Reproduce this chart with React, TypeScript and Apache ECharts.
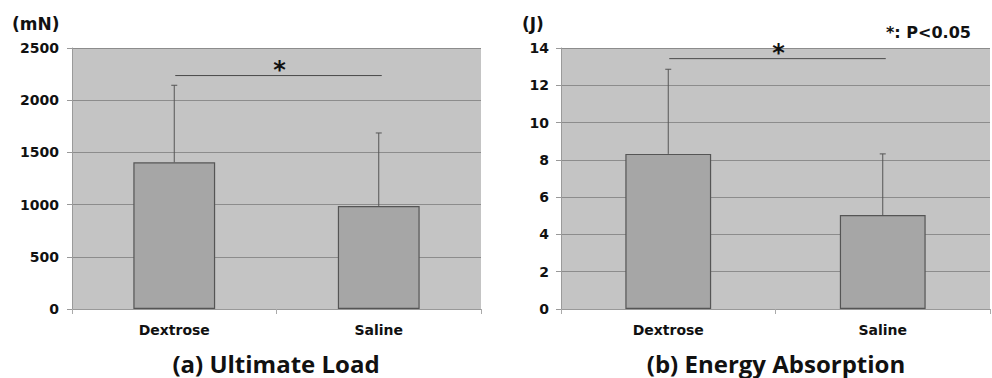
import React, { useEffect, useRef } from "react";
import * as echarts from "echarts";

const categories = ["Dextrose", "Saline"];
const loadMean = [1405, 987];
const loadSD = [738, 699];
const energyMean = [8.32, 5.04];
const energySD = [4.54, 3.28];
const loadTicks = { min: 0, max: 2500, interval: 500 };
const energyTicks = { min: 0, max: 14, interval: 2 };
const loadSigLevel = 2236;
const energySigLevel = 13.43;
const loadTitle = "(a) Ultimate Load";
const energyTitle = "(b) Energy Absorption";
const loadUnit = "(mN)";
const energyUnit = "(J)";
const sigNote = "*: P<0.05";

const FONT = "DejaVu Sans";
const TITLE_FONT = "Open Sans";

export default function App() {
  const ref = useRef<HTMLDivElement>(null);
  useEffect(() => {
    if (!ref.current) return;
    const chart = echarts.init(ref.current, null, { renderer: "svg" });

    const grids = [
      { left: 72, top: 48, width: 409, height: 261 },
      { left: 561, top: 48, width: 429, height: 261 },
    ];

    const xAxisCommon = (gi: number) => ({
      type: "category",
      gridIndex: gi,
      data: categories,
      axisLine: { show: true, lineStyle: { color: "#999", width: 1 } },
      axisTick: { show: true, length: 5, lineStyle: { color: "#aaa" } },
      axisLabel: {
        margin: 14,
        color: "#111",
        fontFamily: FONT,
        fontWeight: "bold",
        fontSize: 14,
      },
    });
    const yAxisCommon = (gi: number, t: any, margin: number) => ({
      type: "value",
      gridIndex: gi,
      min: t.min,
      max: t.max,
      interval: t.interval,
      axisLine: { show: true, lineStyle: { color: "#9a9a9a", width: 1 } },
      axisTick: { show: true, length: 5, lineStyle: { color: "#999" } },
      splitLine: { show: true, lineStyle: { color: "#8c8c8c", width: 1 } },
      axisLabel: {
        margin,
        color: "#111",
        fontFamily: FONT,
        fontWeight: "bold",
        fontSize: 14,
        formatter: (v: number) => String(v),
      },
    });

    const errorRender = (params: any, api: any) => {
      const x = api.value(0);
      const m = api.value(1);
      const sd = api.value(2);
      const top = api.coord([x, m + sd]);
      const base = api.coord([x, m]);
      return {
        type: "group",
        children: [
          {
            type: "line",
            shape: { x1: top[0], y1: top[1], x2: base[0], y2: base[1] },
            style: { stroke: "#555", lineWidth: 1 },
          },
          {
            type: "line",
            shape: { x1: top[0] - 3, y1: top[1], x2: top[0] + 3, y2: top[1] },
            style: { stroke: "#555", lineWidth: 1 },
          },
        ],
      };
    };

    const sigRender = (params: any, api: any) => {
      const a = api.coord([api.value(0), api.value(2)]);
      const b = api.coord([api.value(1), api.value(2)]);
      const mid = (a[0] + b[0]) / 2;
      return {
        type: "group",
        children: [
          {
            type: "line",
            shape: { x1: a[0] + 1, y1: a[1], x2: b[0] + 3, y2: b[1] },
            style: { stroke: "#4a4a4a", lineWidth: 1 },
          },
          {
            type: "text",
            x: mid + 3,
            y: a[1] + 6,
            style: {
              text: "*",
              fontFamily: FONT,
              fontWeight: "bold",
              fontSize: 24,
              fill: "#111",
              align: "center",
              verticalAlign: "bottom",
            },
          },
        ],
      };
    };

    const mkBar = (gi: number, data: number[]) => ({
      type: "bar",
      xAxisIndex: gi,
      yAxisIndex: gi,
      data,
      barWidth: "40%",
      itemStyle: { color: "#a6a6a6", borderColor: "#555", borderWidth: 1.2 },
      z: 2,
    });
    const mkErr = (gi: number, mean: number[], sd: number[]) => ({
      type: "custom",
      xAxisIndex: gi,
      yAxisIndex: gi,
      renderItem: errorRender,
      encode: { x: 0, y: 1 },
      data: mean.map((m, i) => [i, m, sd[i]]),
      z: 3,
      clip: false,
    });
    const mkSig = (gi: number, level: number) => ({
      type: "custom",
      xAxisIndex: gi,
      yAxisIndex: gi,
      renderItem: sigRender,
      encode: { x: 0, y: 2 },
      data: [[0, 1, level]],
      z: 4,
      clip: false,
    });

    const txt = (text: string, x: number, y: number, size: number, family: string, align = "left") => ({
      type: "text",
      x,
      y,
      style: {
        text,
        fontFamily: family,
        fontWeight: "bold",
        fontSize: size,
        fill: "#111",
        align,
        verticalAlign: "middle",
      },
    });

    chart.setOption({
      animation: false,
      backgroundColor: "#ffffff",
      grid: grids.map((g) => ({
        ...g,
        show: true,
        backgroundColor: "#c4c4c4",
        borderWidth: 0,
        containLabel: false,
      })),
      xAxis: [xAxisCommon(0), xAxisCommon(1)],
      yAxis: [yAxisCommon(0, loadTicks, 13), yAxisCommon(1, energyTicks, 12)],
      series: [
        mkBar(0, loadMean),
        mkErr(0, loadMean, loadSD),
        mkSig(0, loadSigLevel),
        mkBar(1, energyMean),
        mkErr(1, energyMean, energySD),
        mkSig(1, energySigLevel),
      ],
      graphic: [
        txt(loadUnit, 12, 24, 17, FONT),
        txt(energyUnit, 522, 24, 17, FONT),
        txt(sigNote, 886, 32, 16, FONT),
        txt(loadTitle, 276, 363, 24, TITLE_FONT, "center"),
        txt(energyTitle, 776, 363, 24, TITLE_FONT, "center"),
      ],
    });
    return () => chart.dispose();
  }, []);
  return (
    <div
      ref={ref}
      style={{ position: "fixed", left: 0, top: 0, width: 992, height: 378 }}
    />
  );
}
